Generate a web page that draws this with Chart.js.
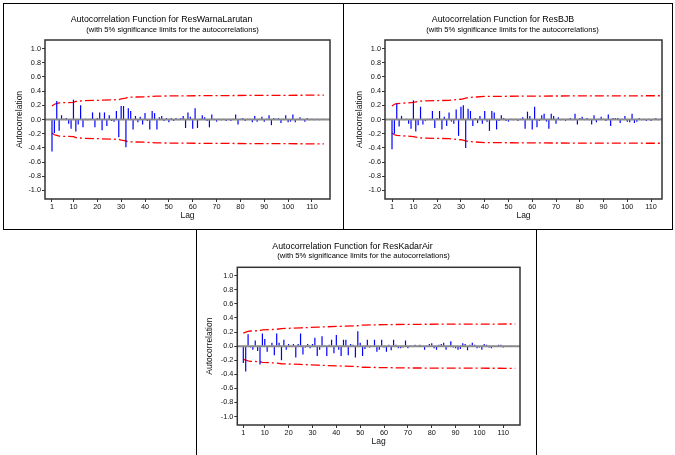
<!DOCTYPE html>
<html>
<head>
<meta charset="utf-8">
<script src="https://cdn.jsdelivr.net/npm/chart.js@4.4.0/dist/chart.umd.min.js"></script>
<style>
  body { margin: 0; background: #fff; width: 675px; height: 455px; overflow: hidden; position: relative; }
  .panel { position: absolute; box-sizing: border-box; border: 1px solid #000; background: #fff; }
  .panel canvas { display: block; }
</style>
</head>
<body>
<div class="panel" style="left:3px;top:3px;width:341px;height:227px"><canvas id="acfWarna" width="339" height="225"></canvas></div>
<div class="panel" style="left:343px;top:3px;width:330px;height:227px"><canvas id="acfBJB" width="328" height="225"></canvas></div>
<div class="panel" style="left:196px;top:229px;width:341px;height:240px"><canvas id="acfKadar" width="339" height="226"></canvas></div>
<script>
// Lags and axis ticks =========================================================

const LAGS = Array.from({ length: 115 }, (_, i) => i + 1);
const X_TICKS = [1, 10, 20, 30, 40, 50, 60, 70, 80, 90, 100, 110];
const Y_TICKS = [-1.0, -0.8, -0.6, -0.4, -0.2, 0.0, 0.2, 0.4, 0.6, 0.8, 1.0];
const SUBTITLE = "(with 5% significance limits for the autocorrelations)";

// ResWarnaLarutan ============================================================

const acfWarna = [
  -0.45, -0.19, 0.26, -0.16, 0.06, 0.01, 0.02, -0.06, -0.13, 0.28,
  -0.17, -0.07, 0.20, -0.11, 0.01, -0.01, 0.01, 0.10, -0.11, 0.02,
  0.10, -0.15, 0.10, -0.09, 0.06, -0.02, -0.03, 0.12, -0.25, 0.19,
  0.19, -0.39, 0.16, 0.12, -0.14, 0.05, -0.04, 0.04, -0.07, 0.09,
  -0.02, -0.14, 0.12, 0.09, -0.14, 0.03, 0.05, -0.02, 0.02, -0.04,
  0.02, -0.02, 0.02, -0.01, 0.02, 0.05, -0.12, 0.10, 0.04, -0.13,
  0.16, -0.12, 0.01, 0.06, 0.03, -0.02, -0.11, 0.07, 0.01, -0.03,
  0.01, -0.01, 0.01, -0.02, 0.01, -0.02, 0.01, 0.07, -0.07, 0.01,
  0.02, -0.02, 0.01, 0.01, -0.04, 0.05, -0.03, 0.01, 0.04, -0.03,
  0.01, 0.06, -0.08, 0.02, 0.01, 0.02, -0.05, 0.01, 0.06, -0.04,
  -0.03, 0.07, -0.04, 0.01, 0.03, -0.01, -0.03, 0.02, -0.01, 0.01,
  -0.01, 0.01, -0.01, 0.01, 0.01,
];
const limWarnaLags = [1, 2, 3, 4, 10, 11, 14, 20, 29, 30, 32, 33, 40, 45, 62, 90, 115];
const limWarna = [0.19, 0.215, 0.225, 0.235, 0.24, 0.255, 0.265, 0.27, 0.28, 0.29, 0.3, 0.315, 0.32, 0.33, 0.335, 0.34, 0.343];

// ResBJB =====================================================================

const acfBJB = [
  -0.42, -0.20, 0.225, -0.10, 0.05, -0.01, 0.01, -0.06, -0.13, 0.27,
  -0.17, -0.08, 0.18, -0.07, -0.02, 0.01, 0.01, 0.12, -0.12, 0.02,
  0.12, -0.14, 0.04, -0.09, 0.10, -0.03, -0.06, 0.14, -0.23, 0.18,
  0.20, -0.40, 0.15, 0.12, -0.09, 0.02, -0.05, 0.05, -0.06, 0.12,
  -0.03, -0.16, 0.12, 0.10, -0.14, -0.02, 0.06, 0.02, -0.02, -0.03,
  0.01, -0.01, 0.01, -0.02, 0.01, 0.03, -0.13, 0.11, 0.05, -0.14,
  0.18, -0.11, -0.02, 0.06, 0.08, -0.03, -0.13, 0.08, 0.05, -0.06,
  0.03, -0.01, 0.01, -0.02, 0.01, 0.02, -0.01, 0.08, -0.07, 0.02,
  0.04, -0.01, 0.02, -0.01, -0.07, 0.06, -0.04, 0.01, 0.04, 0.01,
  -0.02, 0.07, -0.09, 0.02, 0.02, 0.02, -0.05, 0.01, 0.05, -0.03,
  -0.04, 0.08, -0.05, -0.03, 0.02, -0.01, 0.01, -0.02, 0.01, -0.02,
  0.01, 0.02, -0.01, 0.01, 0.01,
];
const limBJBLags = [1, 2, 3, 10, 13, 25, 30, 33, 40, 60, 115];
const limBJB = [0.19, 0.215, 0.225, 0.24, 0.26, 0.27, 0.285, 0.31, 0.325, 0.33, 0.335];

// ResKadarAir ================================================================

const acfKadar = [
  -0.24, -0.36, 0.17, -0.02, -0.05, 0.08, -0.07, -0.26, 0.18, 0.10,
  -0.08, 0.01, 0.05, -0.13, 0.18, 0.05, -0.20, 0.09, -0.05, 0.03,
  -0.01, 0.03, -0.16, 0.03, 0.18, -0.12, -0.02, 0.03, -0.03, 0.03,
  0.12, -0.14, -0.05, 0.14, 0.01, -0.14, 0.02, 0.09, -0.10, 0.16,
  -0.05, -0.14, 0.09, 0.09, -0.13, 0.03, 0.02, -0.16, 0.21, 0.05,
  -0.14, -0.04, 0.09, -0.02, -0.01, 0.09, -0.08, -0.05, 0.09, -0.02,
  -0.08, 0.02, -0.06, 0.09, 0.02, -0.03, -0.03, -0.02, 0.08, -0.03,
  0.01, -0.01, 0.02, -0.01, 0.02, -0.01, -0.05, 0.01, 0.03, 0.04,
  -0.03, -0.05, 0.02, 0.03, 0.05, -0.05, 0.01, 0.07, -0.02, -0.03,
  -0.05, -0.04, 0.04, 0.03, -0.06, 0.02, 0.05, 0.02, -0.03, -0.02,
  -0.05, 0.03, 0.02, -0.02, -0.03, 0.01, -0.01, 0.02, 0.02, -0.02,
  -0.01, 0.01, 0.01, 0.0, 0.0,
];
const limKadarLags = [1, 2, 3, 4, 8, 9, 15, 17, 25, 32, 40, 49, 51, 60, 70, 115];
const limKadar = [0.185, 0.2, 0.21, 0.215, 0.22, 0.23, 0.24, 0.25, 0.26, 0.27, 0.28, 0.29, 0.3, 0.305, 0.31, 0.315];

//=============================================================================

const FONT = '"Liberation Sans", Arial, sans-serif';

// zero line, plot frame and the two title lines
const acfDecor = {
  id: "acfDecor",
  afterDatasetsDraw(chart, args, o) {
    const { ctx, chartArea: a, scales } = chart;
    const y0 = scales.y.getPixelForValue(0);
    ctx.save();
    ctx.strokeStyle = "#8a8a8a";
    ctx.lineWidth = 2;
    ctx.beginPath();
    ctx.moveTo(a.left, y0);
    ctx.lineTo(a.right, y0);
    ctx.stroke();
    ctx.strokeStyle = "#333";
    ctx.lineWidth = 1.5;
    ctx.strokeRect(a.left, a.top, a.right - a.left, a.bottom - a.top);
    ctx.restore();
  },
  afterDraw(chart, args, o) {
    const ctx = chart.ctx;
    ctx.save();
    ctx.fillStyle = "#000";
    ctx.textAlign = "center";
    ctx.textBaseline = "middle";
    ctx.font = "8.8px " + FONT;
    ctx.fillText(o.title, o.titleX, o.titleY);
    ctx.font = "7.6px " + FONT;
    ctx.fillText(SUBTITLE, o.subX, o.subY);
    ctx.restore();
  },
};

function limitSet(lags, vals, sign) {
  return {
    type: "line",
    data: lags.map((l, i) => ({ x: l, y: sign * vals[i] })),
    borderColor: "#ff0000",
    borderWidth: 1.3,
    borderDash: [9, 3, 2, 3],
    pointRadius: 0,
    fill: false,
    tension: 0,
  };
}

function acfChart(id, acf, limLags, lim, p) {
  return new Chart(document.getElementById(id), {
    type: "bar",
    data: {
      datasets: [
        {
          type: "bar",
          data: LAGS.map((l, i) => ({ x: l, y: acf[i] })),
          backgroundColor: "#0000ff",
          borderWidth: 0,
          inflateAmount: 0,
          barThickness: 1.2,
          maxBarThickness: 1.2,
        },
        limitSet(limLags, lim, 1),
        limitSet(limLags, lim, -1),
      ],
    },
    options: {
      responsive: false,
      animation: false,
      layout: { padding: p.pad },
      plugins: {
        legend: { display: false },
        tooltip: { enabled: false },
        acfDecor: p,
      },
      scales: {
        x: {
          type: "linear",
          min: p.xMin,
          max: p.xMax,
          offset: false,
          afterBuildTicks: (s) => { s.ticks = X_TICKS.map((v) => ({ value: v })); },
          afterFit: (s) => { s.height = 24; },
          ticks: { autoSkip: false, maxRotation: 0, padding: 1, color: "#111", font: { family: FONT, size: 7.3 } },
          grid: { offset: false, drawOnChartArea: false, drawTicks: true, tickLength: 3, tickColor: "#333" },
          border: { display: false },
          title: { display: true, text: "Lag", color: "#111", padding: { top: 0, bottom: 2 }, font: { family: FONT, size: 8.5 } },
        },
        y: {
          min: -1.12,
          max: 1.12,
          afterBuildTicks: (s) => { s.ticks = Y_TICKS.map((v) => ({ value: v })); },
          afterFit: (s) => { s.width = p.yW; },
          ticks: { padding: 1, color: "#111", font: { family: FONT, size: 7.3 }, callback: (v) => v.toFixed(1) },
          grid: { drawOnChartArea: false, drawTicks: true, tickLength: 3, tickColor: "#333" },
          border: { display: false },
          title: { display: true, text: "Autocorrelation", color: "#111", padding: 0, font: { family: FONT, size: 8.5 } },
        },
      },
    },
    plugins: [acfDecor],
  });
}

const graficoWarna = acfChart("acfWarna", acfWarna, limWarnaLags, limWarna, {
  title: "Autocorrelation Function for ResWarnaLarutan",
  titleX: 157.5, titleY: 16, subX: 168.5, subY: 25.5,
  pad: { left: 11, right: 13, top: 36, bottom: 6 },
  yW: 30, xMin: -1.93, xMax: 117.56,
});

const graficoBJB = acfChart("acfBJB", acfBJB, limBJBLags, limBJB, {
  title: "Autocorrelation Function for ResBJB",
  titleX: 159, titleY: 16, subX: 168.5, subY: 25.5,
  pad: { left: 11, right: 10, top: 36, bottom: 6 },
  yW: 30, xMin: -1.95, xMax: 114.6,
});

const graficoKadar = acfChart("acfKadar", acfKadar, limKadarLags, limKadar, {
  title: "Autocorrelation Function for ResKadarAir",
  titleX: 155.5, titleY: 16.7, subX: 166.5, subY: 26,
  pad: { left: 8, right: 16, top: 37.3, bottom: 7 },
  yW: 32.3, xMin: -1.52, xMax: 117.0,
});
</script>
</body>
</html>
